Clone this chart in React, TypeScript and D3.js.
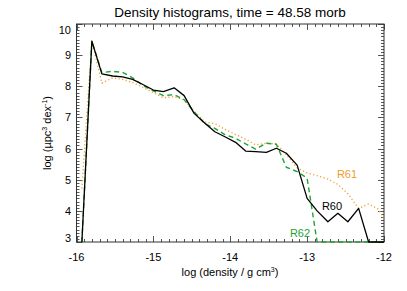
import * as d3 from 'd3';

// log density bin centres (g cm^-3)
const densityBins = [
  -15.93, -15.8, -15.67, -15.53, -15.4, -15.27, -15.13, -15.0, -14.87, -14.73,
  -14.6, -14.47, -14.33, -14.2, -14.07, -13.93, -13.8, -13.67, -13.53, -13.4,
  -13.27, -13.13, -13.0, -12.87, -12.73, -12.6, -12.47, -12.33, -12.2, -12.07, -11.93
];

const r60 = [
  3.0, 9.45, 8.4, 8.33, 8.3, 8.22, 8.05, 7.88, 7.83, 7.95,
  7.7, 7.13, 6.81, 6.54, 6.38, 6.2, 5.92, 5.9, 5.88, 6.01,
  5.85, 5.47, 4.4, 4.0, 3.65, 3.92, 3.65, 4.08, 3.0, 3.0, 3.0
];

const r61 = [
  4.72, 9.45, 8.1, 8.27, 8.22, 8.12, 7.96, 7.8, 7.63, 7.67,
  7.56, 7.2, 6.85, 6.8, 6.62, 6.45, 6.3, 6.12, 6.17, 6.15,
  5.8, 5.38, 5.22, 5.13, 5.02, 4.85, 4.55, 4.08, 4.22, 4.05, 3.4
];

const r62 = [
  3.0, 9.45, 8.44, 8.48, 8.45, 8.27, 8.02, 7.85, 7.7, 7.73,
  7.57, 7.18, 6.8, 6.65, 6.45, 6.33, 6.15, 5.98, 6.17, 6.14,
  5.4, 5.26, 5.05, 3.0, 3.0, 3.0, 3.0, 3.0, 3.0, 3.0, 3.0
];

const xTickValues = [-16, -15, -14, -13, -12];
const yTickValues = [3, 4, 5, 6, 7, 8, 9, 10];

const W = 407;
const H = 291;
const margin = { left: 76.5, right: 23, top: 24, bottom: 49 };
const font = 'Liberation Sans, Arial, Helvetica, sans-serif';

const ORANGE = '#f39a2a';
const GREEN = '#1fa334';

export default function App() {
  const x = d3.scaleLinear().domain([-16, -12]).range([margin.left, W - margin.right]);
  const y = d3.scaleLinear().domain([3, 10]).range([H - margin.bottom, margin.top]);

  const [x0, x1] = x.range();
  const [y0, y1] = y.range();

  const lineFor = (vals: number[]) =>
    d3
      .line<number>()
      .x((_, i) => x(densityBins[i]))
      .y(v => y(v))(vals) ?? '';

  const minorX = x.ticks(40);
  const minorY = y.ticks(70);
  const majorLen = 6;
  const minorLen = 3;

  const series = [
    { vals: r61, color: ORANGE, dash: '1.2,2.4', width: 1.3 },
    { vals: r62, color: GREEN, dash: '5,3.5', width: 1.4 },
    { vals: r60, color: '#000', dash: undefined, width: 1.3 }
  ];

  return (
    <svg
      width={W}
      height={H}
      style={{ position: 'absolute', left: 0, top: 0, background: '#fff' }}
      fontFamily={font}
    >
      <defs>
        <clipPath id="plot-clip">
          <rect x={x0} y={y1} width={x1 - x0} height={y0 - y1 + 1.5} />
        </clipPath>
      </defs>

      <text x={230} y={17} fontSize={13.5} textAnchor="middle" fill="#000">
        Density histograms, time = 48.58 morb
      </text>

      {/* ticks, all four sides, pointing inwards */}
      <g stroke="#555" strokeWidth={1}>
        {minorX.map(t => {
          const major = xTickValues.includes(Math.round(t * 10) / 10);
          const len = major ? majorLen : minorLen;
          const px = Math.round(x(t)) + 0.5;
          return (
            <g key={'x' + t}>
              <line x1={px} x2={px} y1={y0} y2={y0 - len} />
              <line x1={px} x2={px} y1={y1} y2={y1 + len} />
            </g>
          );
        })}
        {minorY.map(t => {
          const major = yTickValues.includes(Math.round(t * 10) / 10);
          const len = major ? majorLen : minorLen;
          const py = Math.round(y(t)) + 0.5;
          return (
            <g key={'y' + t}>
              <line x1={x0} x2={x0 + len} y1={py} y2={py} />
              <line x1={x1} x2={x1 - len} y1={py} y2={py} />
            </g>
          );
        })}
      </g>

      <rect x={x0} y={y1} width={x1 - x0} height={y0 - y1} fill="none" stroke="#333" strokeWidth={1} />

      <g clipPath="url(#plot-clip)" fill="none">
        {series.map((s, i) => (
          <path
            key={i}
            d={lineFor(s.vals)}
            stroke={s.color}
            strokeWidth={s.width}
            strokeDasharray={s.dash}
            strokeLinejoin="round"
          />
        ))}
      </g>

      {xTickValues.map(t => (
        <text key={t} x={x(t)} y={261} fontSize={11} textAnchor="middle" fill="#000">
          {t}
        </text>
      ))}
      {yTickValues.map(t => {
        let dy = 4;
        if (t === 10) dy = 9.5;
        if (t === 3) dy = 0;
        return (
          <text key={t} x={71} y={y(t) + dy} fontSize={11} textAnchor="end" fill="#000">
            {t}
          </text>
        );
      })}

      <text x={230} y={276} fontSize={11} textAnchor="middle" fill="#000">
        log (density / g cm
        <tspan fontSize={7} dy={-4}>3</tspan>
        <tspan dy={4}>)</tspan>
      </text>

      <text transform="translate(51,133) rotate(-90)" fontSize={11} textAnchor="middle" fill="#000">
        log (µpc
        <tspan fontSize={7} dy={-4}>3</tspan>
        <tspan dy={4}> dex</tspan>
        <tspan fontSize={7} dy={-4}>-1</tspan>
        <tspan dy={4}>)</tspan>
      </text>

      <text x={347} y={178} fontSize={11} textAnchor="middle" fill={ORANGE}>R61</text>
      <text x={332} y={210} fontSize={11} textAnchor="middle" fill="#000">R60</text>
      <text x={300} y={237} fontSize={11} textAnchor="middle" fill={GREEN}>R62</text>
    </svg>
  );
}
